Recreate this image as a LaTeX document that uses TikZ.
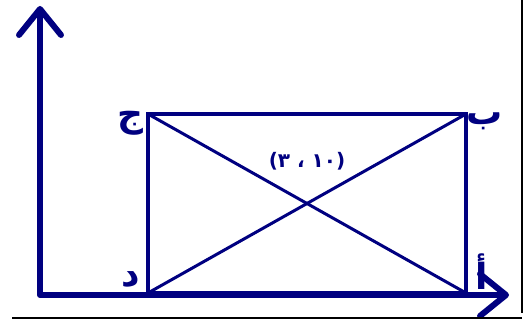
\documentclass[tikz,border=0pt]{standalone}
\usepackage{fontspec}
\usetikzlibrary{arrows.meta,positioning}
\newfontfamily\arabicfont[Script=Arabic]{DejaVu Sans}
\TeXXeTstate=1
\definecolor{axisnavy}{RGB}{0,0,128}
\tikzset{
    axisline/.style={line width=6pt,axisnavy,line join=round,line cap=round},
    boxline/.style={line width=4pt,axisnavy},
    diagline/.style={line width=3pt,axisnavy},
    cornerlabel/.style={font=\arabicfont\bfseries\fontsize{36}{36}\selectfont,text=axisnavy,inner sep=0pt},
    pointlabel/.style={font=\arabicfont\bfseries\fontsize{20}{20}\selectfont,text=axisnavy,inner sep=0pt},
    frameline/.style={line width=2pt,black}
}
\begin{document}
\begin{tikzpicture}[x=1pt,y=-1pt]
        \useasboundingbox (0,0) rectangle (530,320);
        % axes
        \coordinate (origin) at (40,295);
        \coordinate (ytip) at (40,6);
        \coordinate (xtip) at (509,295);
        \draw[axisline,{Straight Barb[length=26pt,width=42pt,round]}-{Straight Barb[length=26pt,width=42pt,round]}] (ytip) |- (xtip);
        % rectangle corners
        \coordinate (A) at (466,293);
        \coordinate (B) at (466,114);
        \coordinate (C) at (148,114);
        \coordinate (D) at (148,293);
        \draw[boxline] (A) -- (B) -- (C) -- (D) -- cycle;
        \draw[diagline] (A) -- (C);
        \draw[diagline] (B) -- (D);
        % labels
        \node[cornerlabel] (labA) at (482,272) {أ};
        \node[cornerlabel] (labB) at (485,121) {ب};
        \node[cornerlabel] (labC) at (130,123) {ج};
        \node[cornerlabel] (labD) at (131,280) {د};
        \node[pointlabel] (labP) at (307,161) {\beginR(١٠ ، ٣)\endR};
        % frame edges
        \draw[frameline] (522,0) -- (522,313);
        \draw[frameline] (12,318) -- (522,318);
    \end{tikzpicture}
\end{document}
